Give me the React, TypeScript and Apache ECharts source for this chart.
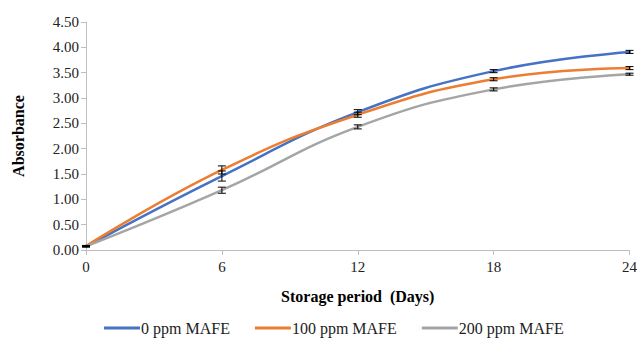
import React, { useEffect, useRef } from "react";
import * as echarts from "echarts";

const days = [0, 6, 12, 18, 24];
const seriesNames = ["0 ppm MAFE", "100 ppm MAFE", "200 ppm MAFE"];
const mafe0 = [0.07, 1.46, 2.72, 3.53, 3.91];
const mafe100 = [0.08, 1.58, 2.67, 3.37, 3.59];
const mafe200 = [0.07, 1.18, 2.43, 3.17, 3.47];
const err0 = [0.01, 0.1, 0.05, 0.03, 0.03];
const err100 = [0.01, 0.08, 0.05, 0.03, 0.03];
const err200 = [0.01, 0.06, 0.04, 0.03, 0.02];
const colors = ["#4472C4", "#ED7D31", "#A5A5A5"];

const FONT = "Liberation Serif";

export default function App() {
  const ref = useRef<HTMLDivElement>(null);
  useEffect(() => {
    if (!ref.current) return;
    const chart = echarts.init(ref.current, undefined, { renderer: "svg" });
    const values = [mafe0, mafe100, mafe200];
    const errs = [err0, err100, err200];
    const lineSeries = values.map((v, i) => ({
      name: seriesNames[i],
      type: "line",
      data: days.map((d, j) => [d, v[j]]),
      smooth: 0.45,
      symbol: "circle",
      symbolSize: 3,
      showSymbol: true,
      itemStyle: { color: colors[i] },
      lineStyle: { color: colors[i], width: 2.5 },
      z: 3,
    }));
    const errSeries = values.map((v, i) => ({
      name: seriesNames[i] + " err",
      type: "custom",
      data: days.map((d, j) => [d, v[j] - errs[i][j], v[j] + errs[i][j]]),
      renderItem: (params: any, api: any) => {
        const x = api.value(0);
        const lo = api.coord([x, api.value(1)]);
        const hi = api.coord([x, api.value(2)]);
        const w = 4;
        const style = { stroke: "#000", lineWidth: 1 };
        return {
          type: "group",
          children: [
            { type: "line", shape: { x1: lo[0], y1: lo[1], x2: hi[0], y2: hi[1] }, style },
            { type: "line", shape: { x1: lo[0] - w, y1: lo[1], x2: lo[0] + w, y2: lo[1] }, style },
            { type: "line", shape: { x1: hi[0] - w, y1: hi[1], x2: hi[0] + w, y2: hi[1] }, style },
          ],
        };
      },
      z: 4,
      silent: true,
    }));
    chart.setOption({
      animation: false,
      backgroundColor: "#fff",
      textStyle: { fontFamily: FONT },
      grid: { left: 86, right: 9, top: 22, bottom: 88 },
      legend: {
        data: seriesNames.map((n) => ({ name: n, icon: "rect" })),
        bottom: 2,
        left: 104,
        padding: 0,
        itemWidth: 36,
        itemHeight: 3,
        itemGap: 25,
        textStyle: { fontFamily: FONT, fontSize: 16, color: "#222", padding: [0, 0, 0, -4] },
      },
      xAxis: {
        type: "value",
        min: 0,
        max: 24,
        interval: 6,
        name: "Storage period  (Days)",
        nameLocation: "middle",
        nameGap: 38,
        nameTextStyle: { fontFamily: FONT, fontSize: 16, fontWeight: "bold", color: "#000" },
        axisLine: { lineStyle: { color: "#BFBFBF" } },
        axisTick: { show: true, length: 5, lineStyle: { color: "#BFBFBF" } },
        splitLine: { show: false },
        axisLabel: { fontFamily: FONT, fontSize: 15, color: "#222", margin: 9 },
      },
      yAxis: {
        type: "value",
        min: 0,
        max: 4.5,
        interval: 0.5,
        name: "Absorbance",
        nameLocation: "middle",
        nameGap: 60,
        nameTextStyle: { fontFamily: FONT, fontSize: 16, fontWeight: "bold", color: "#000" },
        axisLine: { show: true, lineStyle: { color: "#BFBFBF" } },
        axisTick: { show: true, length: 5, lineStyle: { color: "#BFBFBF" } },
        splitLine: { show: false },
        axisLabel: {
          fontFamily: FONT,
          fontSize: 15,
          color: "#222",
          margin: 7,
          formatter: (v: number) => v.toFixed(2),
        },
      },
      series: [...lineSeries, ...errSeries],
    });
    return () => chart.dispose();
  }, []);
  return (
    <div
      ref={ref}
      style={{ position: "fixed", left: 0, top: 0, width: 640, height: 338, background: "#fff" }}
    />
  );
}
